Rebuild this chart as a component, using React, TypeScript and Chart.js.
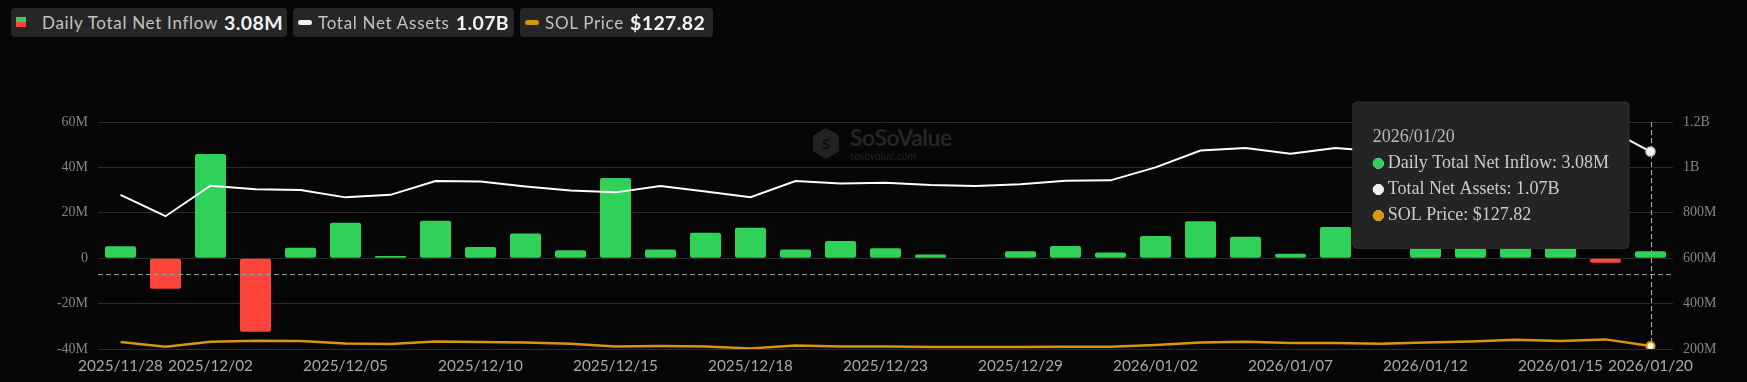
import React, { useEffect, useRef } from 'react';
import { Chart, registerables, Tooltip } from 'chart.js';

Chart.register(...registerables);

const dates = [
  '2025/11/28', '2025/12/01', '2025/12/02', '2025/12/03', '2025/12/04', '2025/12/05',
  '2025/12/08', '2025/12/09', '2025/12/10', '2025/12/11', '2025/12/12',
  '2025/12/15', '2025/12/16', '2025/12/17', '2025/12/18', '2025/12/19',
  '2025/12/22', '2025/12/23', '2025/12/24', '2025/12/26',
  '2025/12/29', '2025/12/30', '2025/12/31', '2026/01/02',
  '2026/01/05', '2026/01/06', '2026/01/07', '2026/01/08', '2026/01/09',
  '2026/01/12', '2026/01/13', '2026/01/14', '2026/01/15', '2026/01/16',
  '2026/01/20',
];

// Daily Total Net Inflow (USD millions)
const netInflowM = [
  5.3, -13.5, 45.9, -32.4, 4.6, 15.6,
  1.0, 16.5, 4.9, 10.9, 3.5,
  35.3, 3.8, 11.2, 13.4, 3.8,
  7.6, 4.4, 1.6, 0,
  3.1, 5.4, 2.5, 9.8,
  16.3, 9.4, 2.0, 13.7, 0,
  10.0, 12.0, 9.0, 14.0, -2.0,
  3.08,
];

// Total Net Assets (USD millions)
const totalNetAssetsM = [
  879, 785, 919, 904, 900, 868,
  879, 940, 938, 916, 898,
  890, 918, 894, 869, 940,
  929, 932, 922, 918,
  926, 941, 943, 1000,
  1074, 1085, 1060, 1085, 1070,
  1095, 1130, 1180, 1165, 1175,
  1070,
];

// SOL Price (USD)
const solPrice = [
  138.6, 126.1, 139.4, 142.0, 141.2, 134.9,
  133.5, 140.2, 138.6, 137.5, 134.1,
  126.5, 128.0, 126.9, 121.6, 129.5,
  126.9, 126.9, 125.3, 125.3,
  125.3, 126.1, 126.1, 130.6,
  137.5, 139.4, 135.9, 135.9, 134.1,
  137.5, 140.2, 144.7, 141.2, 145.5,
  127.82,
];

const leftAxis = { min: -40, max: 60, step: 20 };
const rightAxis = { min: 200, max: 1200, step: 200 };
const priceAxis = { min: 120, max: 722 };
const DASH_LINE_M = -6.9;
const LAST = dates.length - 1;

const GREEN = '#30d158';
const RED = '#ff453a';
const WHITE = '#ffffff';
const ORANGE = '#dc9410';

(Tooltip as any).positioners.fixedLeft = function (this: any) {
  const chart = this.chart;
  const x = chart.scales.x.getPixelForValue(LAST);
  return { x: x - 25.5, y: chart.chartArea.top - 20 };
};

const fmtM = (v: number) => v.toFixed(2) + 'M';
const fmtB = (v: number) => (v / 1000).toFixed(2) + 'B';

const guidePlugin = {
  id: 'guides',
  beforeDatasetsDraw(chart: any) {
    const { ctx, chartArea, scales } = chart;
    const x = scales.x.getPixelForValue(LAST);
    ctx.save();
    ctx.strokeStyle = '#b0b0b0';
    ctx.lineWidth = 1;
    ctx.setLineDash([5, 3]);
    ctx.beginPath();
    ctx.moveTo(Math.round(x) + 0.5, chartArea.top);
    ctx.lineTo(Math.round(x) + 0.5, chartArea.bottom - 3);
    ctx.stroke();
    ctx.restore();
  },
  afterDatasetsDraw(chart: any) {
    const { ctx, chartArea, scales } = chart;
    const y = scales.y.getPixelForValue(DASH_LINE_M);
    ctx.save();
    ctx.strokeStyle = '#9c9c9c';
    ctx.lineWidth = 1.2;
    ctx.setLineDash([5, 3]);
    ctx.beginPath();
    ctx.moveTo(chartArea.left, Math.round(y) + 0.5);
    ctx.lineTo(chartArea.right, Math.round(y) + 0.5);
    ctx.stroke();
    ctx.restore();
  },
};

const legendBox: React.CSSProperties = {
  position: 'absolute',
  top: 7.5,
  height: 29,
  background: '#262626',
  borderRadius: 4,
  display: 'flex',
  alignItems: 'center',
  fontFamily: 'Lato, sans-serif',
  whiteSpace: 'nowrap',
};
const labelStyle: React.CSSProperties = { color: '#c2c2c2', fontSize: 17, letterSpacing: 0.7 };
const valueStyle: React.CSSProperties = {
  color: '#f2f2f2',
  fontSize: 19.5,
  fontWeight: 700,
  marginLeft: 6,
  letterSpacing: 0.4,
};

export default function App() {
  const ref = useRef<HTMLCanvasElement | null>(null);

  useEffect(() => {
    const canvas = ref.current;
    if (!canvas) return;
    const colorFor = (d: number) => (d === 0 ? GREEN : d === 1 ? '#eeeeee' : ORANGE);
    const chart = new Chart(canvas, {
      type: 'bar',
      data: {
        labels: dates,
        datasets: [
          {
            type: 'bar',
            label: 'Daily Total Net Inflow',
            data: netInflowM,
            yAxisID: 'y',
            backgroundColor: netInflowM.map((v) => (v >= 0 ? GREEN : RED)),
            borderRadius: 2,
            borderSkipped: false,
            categoryPercentage: 1,
            barPercentage: 0.69,
            order: 3,
          } as any,
          {
            type: 'line',
            label: 'Total Net Assets',
            data: totalNetAssetsM,
            yAxisID: 'y1',
            borderColor: WHITE,
            borderWidth: 2,
            tension: 0,
            pointRadius: (c: any) => (c.dataIndex === LAST ? 4.5 : 0),
            pointBackgroundColor: '#f4f4f4',
            pointBorderColor: '#c8c8c8',
            pointBorderWidth: 1.5,
            order: 1,
          } as any,
          {
            type: 'line',
            label: 'SOL Price',
            data: solPrice,
            yAxisID: 'y2',
            borderColor: ORANGE,
            borderWidth: 2.5,
            tension: 0,
            pointRadius: (c: any) => (c.dataIndex === LAST ? 4 : 0),
            pointBackgroundColor: '#ffffff',
            pointBorderColor: ORANGE,
            pointBorderWidth: 2,
            order: 2,
          } as any,
        ],
      },
      options: {
        responsive: false,
        animation: false,
        devicePixelRatio: 1,
        events: [],
        layout: { padding: { top: 122, bottom: 0, left: 0, right: 0 } },
        plugins: {
          legend: { display: false },
          tooltip: {
            enabled: true,
            position: 'fixedLeft' as any,
            xAlign: 'right',
            yAlign: 'top',
            caretSize: 0,
            caretPadding: 0,
            cornerRadius: 4,
            backgroundColor: '#242424',
            borderColor: '#2e2e2e',
            borderWidth: 1,
            padding: { top: 24, bottom: 22, left: 20, right: 20 },
            titleFont: { family: 'Liberation Serif', size: 18, weight: 'normal' },
            titleColor: '#b8b8b8',
            titleMarginBottom: 5,
            bodyFont: { family: 'Liberation Serif', size: 18 },
            bodyColor: '#cbcbcb',
            bodySpacing: 4.5,
            displayColors: true,
            usePointStyle: true,
            boxWidth: 11,
            boxHeight: 10,
            boxPadding: 2,
            itemSort: (a: any, b: any) => a.datasetIndex - b.datasetIndex,
            callbacks: {
              title: (items: any[]) => dates[items[0].dataIndex],
              label: (c: any) => {
                const v = c.raw as number;
                if (c.datasetIndex === 0) return 'Daily Total Net Inflow: ' + fmtM(v);
                if (c.datasetIndex === 1) return 'Total Net Assets: ' + fmtB(v);
                return 'SOL Price: $' + v.toFixed(2);
              },
              labelColor: (c: any) => ({
                borderColor: colorFor(c.datasetIndex),
                backgroundColor: colorFor(c.datasetIndex),
                borderWidth: 0,
              }),
              labelPointStyle: () => ({ pointStyle: 'circle', rotation: 0 }),
            } as any,
          },
        },
        scales: {
          x: {
            offset: true,
            grid: { display: false, drawTicks: false },
            border: { display: false },
            ticks: {
              autoSkip: false,
              maxRotation: 0,
              minRotation: 0,
              padding: 8,
              color: '#a9a9a9',
              font: { family: 'Lato', size: 15.3 },
              callback: (_v: any, i: number) =>
                i === 0 || (i + 1) % 3 === 0 || i === LAST ? dates[i] : '',
            },
            afterFit: (s: any) => {
              s.height = 33;
            },
          },
          y: {
            position: 'left',
            min: leftAxis.min,
            max: leftAxis.max,
            grid: { color: '#2b2b2b', drawTicks: false, lineWidth: 1 },
            border: { display: false },
            ticks: {
              stepSize: leftAxis.step,
              padding: 10,
              color: '#858585',
              font: { family: 'Liberation Serif', size: 14 },
              callback: (v: any) => (Number(v) === 0 ? '0' : v + 'M'),
            },
            afterFit: (s: any) => {
              s.width = 98;
            },
          },
          y1: {
            position: 'right',
            min: rightAxis.min,
            max: rightAxis.max,
            grid: { display: false, drawTicks: false },
            border: { display: false },
            ticks: {
              stepSize: rightAxis.step,
              padding: 10,
              color: '#858585',
              font: { family: 'Liberation Serif', size: 14 },
              callback: (v: any) => (Number(v) >= 1000 ? Number(v) / 1000 + 'B' : v + 'M'),
            },
            afterFit: (s: any) => {
              s.width = 74;
            },
          },
          y2: {
            display: false,
            min: priceAxis.min,
            max: priceAxis.max,
          },
        },
      } as any,
      plugins: [guidePlugin],
    });

    const els = [0, 1, 2].map((d) => ({ datasetIndex: d, index: LAST }));
    chart.tooltip?.setActiveElements(els, { x: 0, y: 0 });
    chart.draw();

    return () => {
      chart.destroy();
    };
  }, []);

  return (
    <div
      style={{
        position: 'fixed',
        left: 0,
        top: 0,
        width: 1747,
        height: 382,
        background: '#060606',
        overflow: 'hidden',
      }}
    >
      <canvas ref={ref} width={1747} height={382} style={{ position: 'absolute', left: 0, top: 0, width: 1747, height: 382 }} />

      {/* watermark */}
      <div style={{ position: 'absolute', left: 812, top: 126, display: 'flex', alignItems: 'center', pointerEvents: 'none' }}>
        <svg width="28" height="33" viewBox="0 0 28 33">
          <polygon points="14,1 27,8.5 27,24.5 14,32 1,24.5 1,8.5" fill="#222" />
          <text x="14" y="22" textAnchor="middle" fontSize="14" fontWeight="700" fill="#0a0a0a" fontFamily="Lato">S</text>
        </svg>
        <div style={{ marginLeft: 10, lineHeight: 1 }}>
          <div style={{ fontFamily: 'Lato', fontWeight: 700, fontSize: 23, color: '#262626', letterSpacing: -0.5 }}>SoSoValue</div>
          <div style={{ fontFamily: 'Lato', fontStyle: 'italic', fontSize: 11, color: '#222', marginTop: 1 }}>sosovalue.com</div>
        </div>
      </div>

      {/* legend */}
      <div style={{ ...legendBox, left: 11, width: 276 }}>
        <div style={{ marginLeft: 5, width: 10, height: 10, display: 'flex', flexDirection: 'column' }}>
          <div style={{ flex: 1, background: GREEN }} />
          <div style={{ flex: 1, background: RED }} />
        </div>
        <span style={{ ...labelStyle, marginLeft: 16 }}>Daily Total Net Inflow</span>
        <span style={valueStyle}>3.08M</span>
      </div>
      <div style={{ ...legendBox, left: 293, width: 221 }}>
        <div style={{ marginLeft: 5, width: 14, height: 5, borderRadius: 3, background: '#f0f0f0' }} />
        <span style={{ ...labelStyle, marginLeft: 6 }}>Total Net Assets</span>
        <span style={valueStyle}>1.07B</span>
      </div>
      <div style={{ ...legendBox, left: 520, width: 193 }}>
        <div style={{ marginLeft: 5, width: 14, height: 5, borderRadius: 3, background: ORANGE }} />
        <span style={{ ...labelStyle, marginLeft: 6 }}>SOL Price</span>
        <span style={valueStyle}>$127.82</span>
      </div>
    </div>
  );
}
